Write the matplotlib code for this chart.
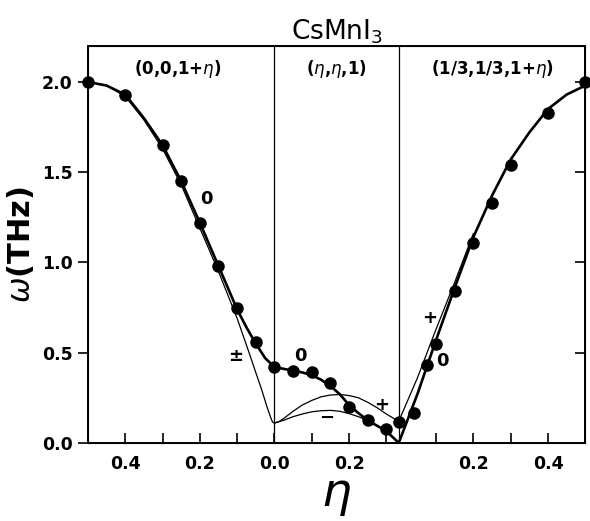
import numpy as np
import matplotlib
matplotlib.use('Agg')
import matplotlib.pyplot as plt

# measured points (omega in THz) for the three zone directions
left_eta = [0.5, 0.4, 0.3, 0.25, 0.2, 0.15, 0.1, 0.05, 0.0]
left_w = [2.0, 1.93, 1.65, 1.45, 1.22, 0.98, 0.745, 0.56, 0.42]
mid_eta = [0.05, 0.1, 0.15, 0.2, 0.25, 0.3, 1/3]
mid_w = [0.40, 0.39, 0.33, 0.20, 0.125, 0.075, 0.115]
right_eta = [0.04, 0.075, 0.1, 0.15, 0.2, 0.25, 0.3, 0.4, 0.5]
right_w = [0.165, 0.43, 0.55, 0.84, 1.105, 1.33, 1.54, 1.83, 2.0]

# calculated dispersion curves
l0_eta = [0.5, 0.45, 0.4, 0.35, 0.3, 0.25, 0.2, 0.15, 0.1, 0.075, 0.05, 0.025, 0.0]
l0_w = [2.0, 1.98, 1.93, 1.80, 1.65, 1.45, 1.22, 0.98, 0.74, 0.64, 0.55, 0.47, 0.42]
lpm_eta = [0.5, 0.45, 0.4, 0.35, 0.3, 0.25, 0.2, 0.15, 0.1, 0.068, 0.05, 0.035, 0.02, 0.01, 0.005, 0.0]
lpm_w = [2.0, 1.98, 1.92, 1.79, 1.63, 1.43, 1.19, 0.95, 0.69, 0.5, 0.39, 0.3, 0.2, 0.14, 0.115, 0.11]

m0_eta = [0.0, 0.025, 0.05, 0.075, 0.1, 0.125, 0.15, 0.175, 0.2, 0.225, 0.25, 0.275, 0.3, 1/3]
m0_w = [0.42, 0.41, 0.40, 0.39, 0.375, 0.35, 0.315, 0.27, 0.21, 0.165, 0.125, 0.095, 0.065, 0.0]
mp_eta = [0.0, 0.01, 0.025, 0.05, 0.075, 0.1, 0.125, 0.15, 0.175, 0.2, 0.225, 0.25, 0.275, 0.3, 0.32, 1/3]
mp_w = [0.11, 0.115, 0.135, 0.175, 0.21, 0.235, 0.255, 0.265, 0.268, 0.262, 0.25, 0.225, 0.195, 0.16, 0.135, 0.12]
mm_eta = [0.0, 0.025, 0.05, 0.075, 0.1, 0.125, 0.15, 0.175, 0.2, 0.225, 0.25]
mm_w = [0.11, 0.125, 0.145, 0.16, 0.172, 0.178, 0.18, 0.175, 0.162, 0.145, 0.125]

r0_eta = [0.0, 0.05, 0.1, 0.15, 0.2, 0.25, 0.3, 0.35, 0.4, 0.45, 0.5]
r0_w = [0.0, 0.27, 0.57, 0.86, 1.14, 1.37, 1.57, 1.72, 1.85, 1.93, 1.98]
rp_eta = [0.0, 0.05, 0.1, 0.15, 0.2]
rp_w = [0.12, 0.36, 0.63, 0.89, 1.16]

tick_labels = ['0.4', '0.2', '0.0', '0.2', '0.2', '0.4']


# map each panel's eta onto one shared x axis
def xl(e):
    return 0.5 - np.asarray(e)


def xm(e):
    return 0.5 + np.asarray(e)


def xr(e):
    return 0.5 + 1/3 + np.asarray(e)


fig = plt.figure(figsize=(5.9, 5.21), dpi=100)
ax = fig.add_axes([0.149, 0.150, 0.843, 0.762])

thick = dict(color='k', lw=1.9, solid_capstyle='round')
thin = dict(color='k', lw=0.9)

ax.plot(xl(l0_eta), l0_w, **thick)
ax.plot(xl(lpm_eta), lpm_w, **thin)
ax.plot(xm(m0_eta), m0_w, **thick)
ax.plot(xm(mp_eta), mp_w, **thin)
ax.plot(xm(mm_eta), mm_w, **thin)
ax.plot(xr(r0_eta), r0_w, **thick)
ax.plot(xr(rp_eta), rp_w, **thin)

for xs, ws in [(xl(left_eta), left_w), (xm(mid_eta), mid_w), (xr(right_eta), right_w)]:
    ax.plot(xs, ws, 'o', color='k', ms=8, clip_on=False, zorder=5)

ax.axvline(0.5, color='k', lw=0.9)
ax.axvline(0.5 + 1/3, color='k', lw=0.9)

ax.set_xlim(0, 0.5 + 1/3 + 0.5)
ax.set_ylim(0, 2.2)
for s in ax.spines.values():
    s.set_linewidth(1.4)

minor = list(xl([0.4, 0.3, 0.2, 0.1])) + list(xm([0.1, 0.2, 0.3])) + list(xr([0.1, 0.2, 0.3, 0.4]))
ax.set_xticks(minor, minor=True)
ax.set_xticks(list(xl([0.4, 0.2, 0.0])) + list(xm([0.2])) + list(xr([0.2, 0.4])))
ax.set_xticklabels(tick_labels, fontsize=12.5, fontweight='bold')
ax.tick_params(axis='x', which='both', direction='in', length=7, width=1.2, pad=9)
ax.set_yticks([0.0, 0.5, 1.0, 1.5, 2.0])
ax.set_yticklabels(['0.0', '0.5', '1.0', '1.5', '2.0'], fontsize=12.5, fontweight='bold')
ax.tick_params(axis='y', direction='out', length=7, width=1.2, pad=4)

ax2 = ax.twinx()
ax2.set_ylim(0, 2.2)
ax2.set_yticks([0.5, 1.0, 1.5, 2.0])
ax2.tick_params(axis='y', direction='in', length=7, width=1.2, labelright=False)

ax.set_title('CsMnI$_3$', fontsize=19, pad=4)
ax.set_ylabel(r'$\omega$(THz)', fontsize=22, fontweight='bold', labelpad=4)
ax.set_xlabel(r'$\eta$', fontsize=34, labelpad=0)

lab = dict(fontsize=12, fontweight='bold', ha='center', va='center')
ax.text(xl(0.26), 2.07, r'(0,0,1+$\eta$)', **lab)
ax.text(xm(1/6), 2.07, r'($\eta$,$\eta$,1)', **lab)
ax.text(xr(0.25), 2.07, r'(1/3,1/3,1+$\eta$)', **lab)

mode = dict(fontsize=13, fontweight='bold', ha='center', va='center')
ax.text(xl(0.182), 1.35, '0', **mode)
ax.text(xl(0.105), 0.48, '±', **mode)
ax.text(xm(0.07), 0.48, '0', **mode)
ax.text(xm(0.14), 0.14, '−', **mode)
ax.text(xm(0.287), 0.21, '+', **mode)
ax.text(xr(0.084), 0.69, '+', **mode)
ax.text(xr(0.117), 0.455, '0', **mode)

fig.savefig('out.png', dpi=100)
